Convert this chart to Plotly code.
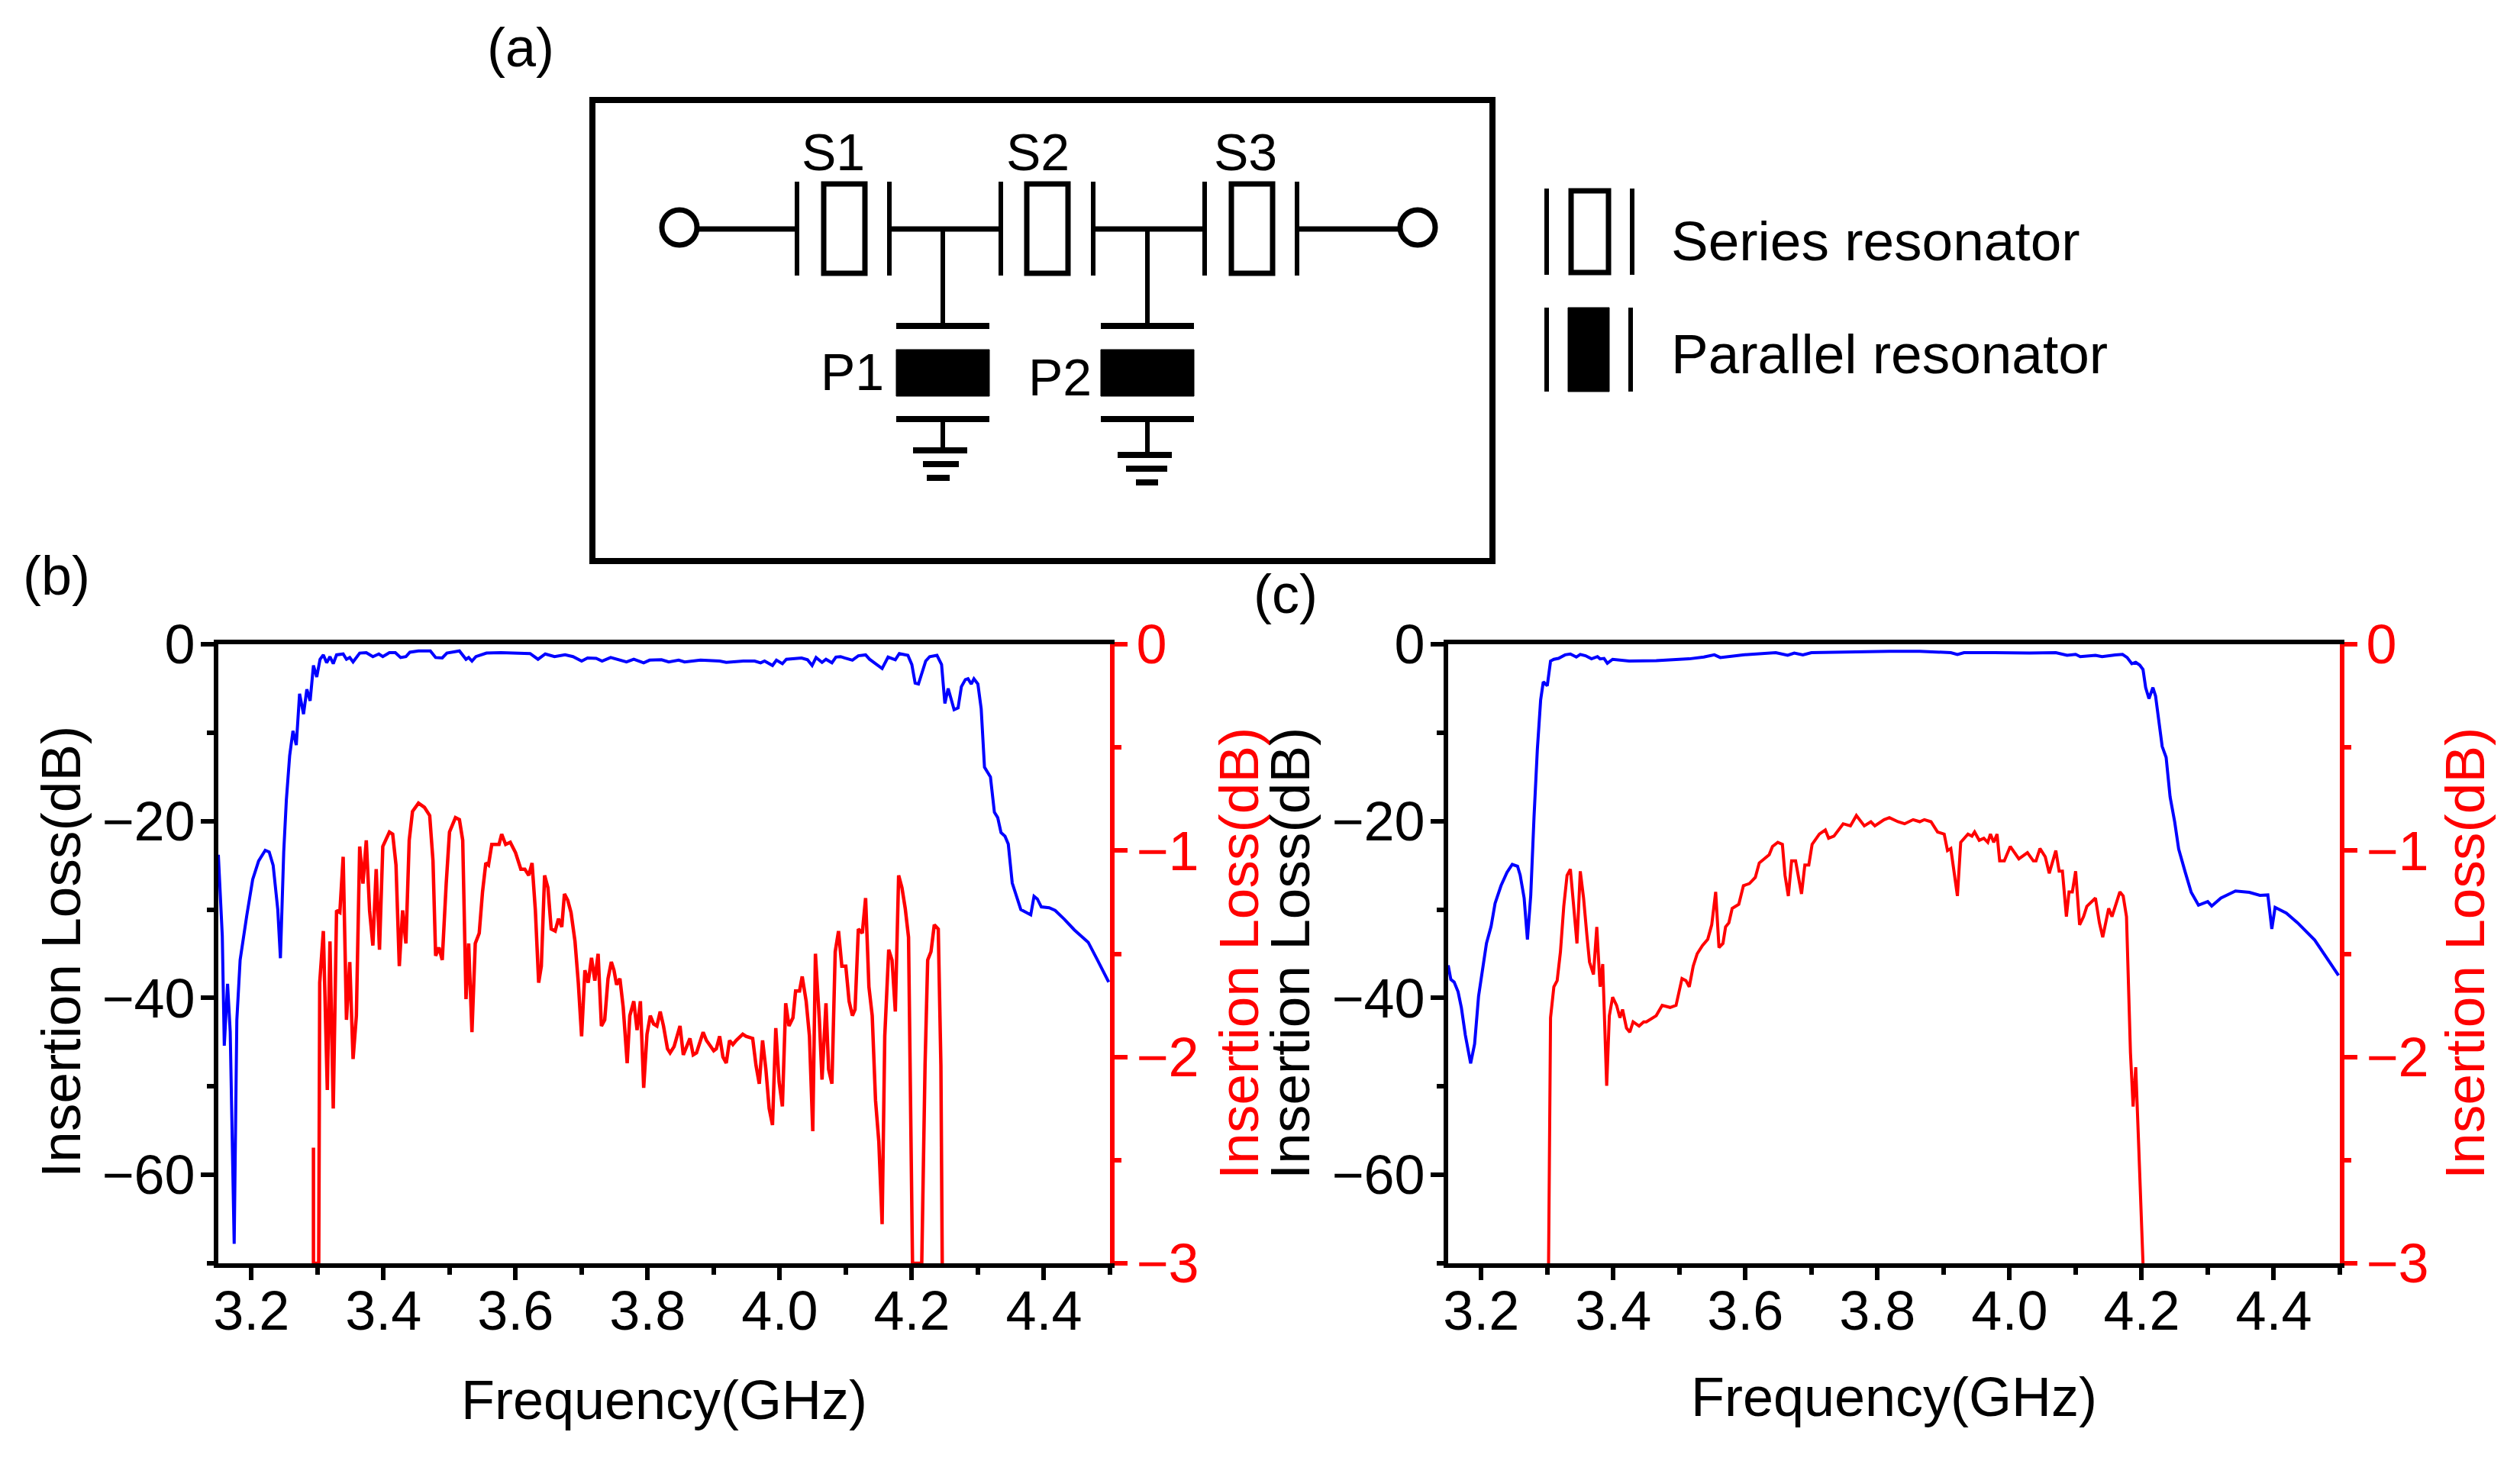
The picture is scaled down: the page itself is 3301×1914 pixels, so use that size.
import plotly.graph_objects as go

# ---------- panel (b) ----------
b_blue_f = [3.15,3.154,3.156,3.159,3.164,3.168,3.174,3.178,3.183,3.193,3.202,3.211,3.221,3.227,3.233,3.24,3.244,3.249,3.253,3.258,3.263,3.268,3.273,3.279,3.284,3.289,3.294,3.299,3.304,3.309,3.314,3.319,3.324,3.329,3.339,3.344,3.349,3.354,3.364,3.374,3.384,3.393,3.399,3.409,3.418,3.426,3.434,3.44,3.453,3.471,3.479,3.489,3.496,3.515,3.525,3.529,3.534,3.54,3.556,3.578,3.622,3.634,3.645,3.659,3.675,3.687,3.7,3.709,3.722,3.731,3.744,3.768,3.779,3.794,3.803,3.821,3.832,3.847,3.856,3.88,3.909,3.919,3.945,3.962,3.971,3.977,3.989,3.995,4.004,4.01,4.033,4.042,4.049,4.055,4.064,4.07,4.079,4.085,4.092,4.098,4.11,4.119,4.13,4.136,4.155,4.164,4.175,4.181,4.194,4.2,4.205,4.21,4.221,4.227,4.238,4.245,4.25,4.255,4.264,4.27,4.275,4.281,4.285,4.29,4.294,4.3,4.305,4.31,4.319,4.325,4.33,4.335,4.341,4.346,4.352,4.365,4.38,4.385,4.39,4.396,4.408,4.417,4.431,4.446,4.467,4.481,4.498]
b_blue_db = [-23.8,-30,-33,-45.4,-38.4,-43.8,-67.8,-42.5,-35.7,-30.7,-26.6,-24.5,-23.3,-23.5,-25,-30,-35.5,-23.5,-17.6,-12.6,-9.8,-11.4,-5.6,-7.9,-5.1,-6.4,-2.4,-3.7,-1.7,-1.2,-2.1,-1.4,-2.2,-1.2,-1.1,-1.7,-1.5,-2,-1,-0.95,-1.4,-1.1,-1.4,-0.95,-0.95,-1.5,-1.4,-0.9,-0.75,-0.75,-1.5,-1.55,-1,-0.75,-1.7,-1.5,-1.9,-1.4,-1,-0.95,-1.05,-1.7,-1.1,-1.4,-1.2,-1.4,-1.9,-1.55,-1.6,-1.9,-1.5,-2,-1.7,-2.1,-1.8,-1.75,-2,-1.8,-2,-1.8,-1.9,-2.05,-1.9,-1.9,-2.1,-1.9,-2.4,-1.8,-2.2,-1.7,-1.55,-1.75,-2.4,-1.5,-2.05,-1.7,-2.1,-1.45,-1.4,-1.55,-1.8,-1.3,-1.2,-1.7,-2.75,-1.45,-1.75,-1.05,-1.25,-2.3,-4.4,-4.5,-1.9,-1.4,-1.25,-2.3,-6.7,-5,-7.4,-7.2,-4.8,-4,-3.9,-4.5,-3.9,-4.5,-7.3,-13.9,-15,-19,-19.6,-21.3,-21.7,-22.6,-27,-30,-30.6,-28.5,-28.8,-29.7,-29.8,-30.1,-31.1,-32.3,-33.7,-35.7,-38.2]

b_red_f = [3.294,3.294,3.302,3.3035,3.309,3.315,3.319,3.324,3.329,3.334,3.339,3.344,3.349,3.354,3.359,3.364,3.369,3.374,3.379,3.384,3.389,3.394,3.399,3.409,3.414,3.419,3.424,3.429,3.434,3.439,3.444,3.453,3.462,3.47,3.475,3.479,3.484,3.489,3.495,3.5,3.509,3.515,3.52,3.525,3.529,3.534,3.539,3.545,3.55,3.555,3.559,3.564,3.575,3.579,3.585,3.592,3.6,3.608,3.614,3.62,3.625,3.63,3.635,3.639,3.644,3.649,3.654,3.66,3.665,3.67,3.674,3.679,3.684,3.69,3.695,3.7,3.705,3.71,3.715,3.72,3.725,3.73,3.735,3.74,3.745,3.749,3.753,3.758,3.763,3.769,3.773,3.779,3.784,3.789,3.794,3.799,3.804,3.809,3.814,3.819,3.824,3.83,3.834,3.84,3.849,3.854,3.864,3.869,3.874,3.884,3.889,3.9,3.904,3.909,3.914,3.919,3.924,3.929,3.934,3.944,3.949,3.959,3.964,3.969,3.974,3.979,3.984,3.989,3.994,3.999,4.004,4.009,4.014,4.02,4.024,4.03,4.034,4.04,4.045,4.05,4.054,4.06,4.064,4.07,4.074,4.079,4.084,4.089,4.094,4.1,4.105,4.11,4.114,4.119,4.125,4.13,4.135,4.14,4.145,4.15,4.155,4.159,4.165,4.17,4.175,4.18,4.185,4.19,4.195,4.198,4.201,4.215,4.22,4.224,4.229,4.234,4.24,4.244,4.246]
b_red_db = [-2.44,-3,-3,-1.64,-1.39,-2.16,-1.44,-2.25,-1.29,-1.3,-1.03,-1.82,-1.54,-2.01,-1.8,-0.98,-1.16,-0.95,-1.29,-1.46,-1.09,-1.48,-0.98,-0.91,-0.92,-1.07,-1.56,-1.29,-1.45,-0.95,-0.81,-0.77,-0.79,-0.83,-1.05,-1.51,-1.47,-1.53,-1.16,-0.91,-0.84,-0.85,-0.95,-1.72,-1.45,-1.88,-1.45,-1.4,-1.2,-1.06,-1.07,-0.97,-0.97,-0.92,-0.97,-0.96,-1.01,-1.09,-1.09,-1.12,-1.06,-1.29,-1.64,-1.56,-1.12,-1.18,-1.38,-1.39,-1.33,-1.37,-1.21,-1.24,-1.3,-1.44,-1.64,-1.9,-1.58,-1.64,-1.52,-1.63,-1.5,-1.85,-1.82,-1.62,-1.54,-1.58,-1.65,-1.62,-1.76,-2.03,-1.8,-1.73,-1.87,-1.73,-2.15,-1.89,-1.8,-1.84,-1.85,-1.78,-1.85,-1.96,-1.98,-1.95,-1.85,-1.99,-1.91,-1.99,-1.98,-1.88,-1.92,-1.97,-1.96,-1.9,-2,-2.03,-1.92,-1.94,-1.92,-1.89,-1.9,-1.91,-2.04,-2.13,-1.92,-2.06,-2.25,-2.33,-1.86,-2.12,-2.24,-1.74,-1.85,-1.81,-1.68,-1.68,-1.61,-1.73,-1.9,-2.36,-1.5,-1.82,-2.11,-1.74,-2.06,-2.13,-1.49,-1.39,-1.56,-1.56,-1.73,-1.8,-1.77,-1.38,-1.4,-1.23,-1.66,-1.8,-2.21,-2.41,-2.81,-1.9,-1.48,-1.53,-1.78,-1.12,-1.18,-1.28,-1.42,-2.3,-3,-3,-2.04,-1.53,-1.49,-1.36,-1.38,-2.04,-3]

# ---------- panel (c) ----------
c_blue_f = [3.15,3.154,3.159,3.165,3.17,3.176,3.184,3.19,3.196,3.203,3.208,3.215,3.221,3.23,3.239,3.247,3.255,3.259,3.265,3.27,3.275,3.28,3.285,3.29,3.294,3.3,3.305,3.31,3.317,3.327,3.335,3.344,3.35,3.358,3.367,3.376,3.38,3.386,3.391,3.399,3.424,3.465,3.496,3.515,3.537,3.553,3.562,3.596,3.646,3.664,3.674,3.687,3.7,3.747,3.771,3.818,3.864,3.911,3.921,3.931,3.977,4.03,4.07,4.087,4.1,4.107,4.13,4.14,4.16,4.171,4.178,4.185,4.191,4.197,4.202,4.206,4.211,4.217,4.221,4.227,4.231,4.237,4.243,4.25,4.256,4.266,4.275,4.286,4.3,4.306,4.32,4.342,4.363,4.379,4.391,4.397,4.402,4.419,4.436,4.462,4.479,4.498]
c_blue_db = [-36.3,-37.9,-38.2,-39.3,-41.1,-44.2,-47.4,-45.2,-39.8,-36,-33.8,-31.9,-29.3,-27.3,-25.8,-24.9,-25.1,-26.1,-28.7,-33.4,-28.4,-19.5,-11.9,-6.3,-4.25,-4.7,-1.9,-1.7,-1.6,-1.2,-1.1,-1.45,-1.15,-1.3,-1.65,-1.4,-1.65,-1.6,-2.15,-1.7,-1.9,-1.85,-1.7,-1.65,-1.45,-1.2,-1.5,-1.2,-0.95,-1.25,-1,-1.2,-0.95,-0.9,-0.8,-0.8,-0.8,-0.95,-1.15,-0.95,-0.95,-1,-0.95,-1.25,-1.15,-1.4,-1.25,-1.4,-1.2,-1.15,-1.5,-2.2,-2.05,-2.35,-2.85,-4.9,-6.15,-4.9,-5.85,-9.3,-11.55,-12.8,-17.25,-20.1,-23.15,-25.8,-28.05,-29.5,-29.1,-29.6,-28.7,-27.9,-28.05,-28.4,-28.35,-32.2,-29.75,-30.4,-31.5,-33.45,-35.35,-37.45]

c_red_f = [3.302,3.3035,3.305,3.31,3.315,3.32,3.325,3.33,3.335,3.34,3.345,3.35,3.355,3.36,3.364,3.37,3.375,3.38,3.384,3.39,3.394,3.399,3.405,3.41,3.414,3.42,3.425,3.43,3.439,3.446,3.45,3.465,3.474,3.486,3.495,3.504,3.51,3.515,3.521,3.527,3.535,3.543,3.549,3.555,3.56,3.566,3.57,3.575,3.58,3.59,3.597,3.606,3.615,3.621,3.631,3.636,3.641,3.649,3.656,3.66,3.665,3.67,3.676,3.685,3.69,3.696,3.701,3.712,3.721,3.726,3.734,3.748,3.759,3.768,3.78,3.79,3.796,3.81,3.818,3.831,3.841,3.854,3.864,3.871,3.881,3.891,3.901,3.906,3.911,3.916,3.921,3.926,3.937,3.943,3.947,3.954,3.961,3.967,3.971,3.976,3.981,3.985,3.992,4.001,4.014,4.027,4.036,4.04,4.046,4.054,4.06,4.07,4.075,4.08,4.086,4.09,4.095,4.1,4.106,4.112,4.117,4.13,4.136,4.141,4.15,4.155,4.167,4.172,4.177,4.18,4.183,4.187,4.191,4.195,4.199,4.202]
c_red_db = [-3,-2.41,-1.81,-1.66,-1.63,-1.49,-1.27,-1.12,-1.09,-1.27,-1.45,-1.1,-1.23,-1.41,-1.54,-1.6,-1.37,-1.66,-1.55,-2.14,-1.8,-1.71,-1.75,-1.81,-1.77,-1.86,-1.88,-1.83,-1.85,-1.83,-1.83,-1.8,-1.75,-1.76,-1.75,-1.62,-1.63,-1.66,-1.56,-1.5,-1.46,-1.43,-1.36,-1.2,-1.47,-1.45,-1.37,-1.35,-1.28,-1.26,-1.17,-1.16,-1.13,-1.06,-1.03,-1.02,-0.98,-0.96,-0.97,-1.12,-1.22,-1.05,-1.05,-1.21,-1.07,-1.07,-0.97,-0.92,-0.9,-0.94,-0.93,-0.87,-0.88,-0.83,-0.88,-0.86,-0.88,-0.85,-0.84,-0.86,-0.87,-0.85,-0.86,-0.85,-0.86,-0.91,-0.92,-1,-0.99,-1.11,-1.22,-0.96,-0.92,-0.93,-0.91,-0.95,-0.94,-0.96,-0.92,-0.96,-0.92,-1.05,-1.05,-0.98,-1.04,-1.01,-1.05,-1.05,-0.99,-1.03,-1.11,-1,-1.1,-1.1,-1.32,-1.2,-1.2,-1.1,-1.36,-1.32,-1.27,-1.23,-1.35,-1.42,-1.28,-1.32,-1.2,-1.22,-1.32,-1.65,-1.98,-2.24,-2.05,-2.39,-2.69,-3]

FREQ_RANGE = [3.15, 4.5]
LEFT_RANGE = [-70, 0]
RIGHT_RANGE = [-3, 0]
X_TITLE = "Frequency(GHz)"
Y_TITLE = "Insertion Loss(dB)"

W, H = 3301, 1914
FONT = "Liberation Sans"
FS = 72
BLUE, RED = "#0000ff", "#ff0000"


def px(x):
    return x / W


def py(y):
    return 1 - y / H


fig = go.Figure()
for fx, fy, rx, ry, xa, yl, yr, rw in [
    (b_blue_f, b_blue_db, b_red_f, b_red_db, "x", "y", "y2", 4.5),
    (c_blue_f, c_blue_db, c_red_f, c_red_db, "x2", "y3", "y4", 4),
]:
    fig.add_trace(go.Scatter(x=fx, y=fy, mode="lines", xaxis=xa, yaxis=yl,
                             line=dict(color=BLUE, width=4), showlegend=False))
    fig.add_trace(go.Scatter(x=rx, y=ry, mode="lines", xaxis=xa, yaxis=yr,
                             line=dict(color=RED, width=rw), showlegend=False))


def xaxis(anchor, dom, standoff):
    return dict(domain=[px(dom[0]), px(dom[1])], anchor=anchor, range=FREQ_RANGE,
                tick0=3.2, dtick=0.2, tickformat=".1f", ticks="outside", ticklen=16,
                tickwidth=6, tickcolor="black", linecolor="black", linewidth=6,
                mirror=True, showgrid=False, zeroline=False,
                minor=dict(dtick=0.1, tick0=3.2, ticks="outside", ticklen=9, tickwidth=6,
                           tickcolor="black", showgrid=False),
                tickfont=dict(family=FONT, size=FS, color="black"), ticklabelstandoff=-21,
                title=dict(text=X_TITLE, standoff=standoff,
                           font=dict(family=FONT, size=FS, color="black")))


def yaxis(anchor, rng, dtick, mdtick, side, color, labeloff, overlay=None):
    d = dict(domain=[py(1655), py(844)], anchor=anchor, range=rng, side=side,
             tick0=0, dtick=dtick, ticks="outside", ticklen=17, tickwidth=6,
             tickcolor=color, linecolor=color, linewidth=6, showgrid=False,
             zeroline=False, showline=True, ticklabelstandoff=labeloff,
             minor=dict(dtick=mdtick, tick0=0, ticks="outside", ticklen=9, tickwidth=6,
                        tickcolor=color, showgrid=False),
             tickfont=dict(family=FONT, size=FS, color=color))
    if overlay:
        d["overlaying"] = overlay
    return d


shapes = []
LC = "black"


def seg(x0, y0, x1, y1, w=7):
    shapes.append(dict(type="line", xref="paper", yref="paper", x0=px(x0), y0=py(y0),
                       x1=px(x1), y1=py(y1), line=dict(color=LC, width=w)))


def rect(x0, y0, x1, y1, fill=None, w=7):
    shapes.append(dict(type="rect", xref="paper", yref="paper", x0=px(x0), y0=py(y0),
                       x1=px(x1), y1=py(y1), line=dict(color=LC, width=w),
                       fillcolor=fill if fill else "rgba(0,0,0,0)"))


def circle(cx, cy, r, w=7):
    shapes.append(dict(type="circle", xref="paper", yref="paper", x0=px(cx - r), y0=py(cy + r),
                       x1=px(cx + r), y1=py(cy - r), line=dict(color=LC, width=w),
                       fillcolor="white"))


# schematic frame
rect(776, 131, 1955, 735, w=8)
# feed line
seg(914, 300, 1044, 300)
seg(1165, 300, 1311, 300)
seg(1432, 300, 1578, 300)
seg(1699, 300, 1834, 300)
circle(890, 298, 23)
circle(1857, 298, 23)
# series resonators
for p0, r0, r1, p1 in [(1044, 1079, 1133, 1165), (1311, 1345, 1399, 1432), (1578, 1613, 1667, 1699)]:
    seg(p0, 238, p0, 361, 6)
    seg(p1, 238, p1, 361, 6)
    rect(r0, 241, r1, 358, w=7)
# shunt resonators
for cx, x0, x1, gy, g in [
    (1235, 1174, 1296, 590, [(1196, 1267), (1209, 1256), (1214, 1244)]),
    (1503, 1442, 1564, 596, [(1464, 1535), (1475, 1529), (1488, 1517)]),
]:
    seg(cx, 300, cx, 427, 6)
    seg(x0, 427, x1, 427, 8)
    rect(x0, 458, x1, 519, fill="black", w=1)
    seg(x0, 549, x1, 549, 8)
    seg(cx, 549, cx, gy, 6)
    for i, (a, b) in enumerate(g):
        seg(a, gy + i * 18, b, gy + i * 18, 8)
# key
seg(2026, 247, 2026, 360, 6)
seg(2138, 247, 2138, 360, 6)
rect(2058, 250, 2107, 357)
seg(2026, 403, 2026, 513, 6)
seg(2136, 403, 2136, 513, 6)
rect(2054, 403, 2108, 513, fill="black", w=1)

annotations = []


def label(text, x, y, anchor="center", size=FS, color="black", angle=0):
    annotations.append(dict(text=text, xref="paper", yref="paper", x=px(x), y=py(y),
                            xanchor=anchor, yanchor="middle", showarrow=False, textangle=angle,
                            font=dict(family=FONT, size=size, color=color)))


label("(a)", 682, 62)
label("(b)", 74, 754)
label("(c)", 1684, 778)
label("S1", 1091, 199, size=68)
label("S2", 1359, 199, size=68)
label("S3", 1631, 199, size=68)
label("P1", 1116, 487, size=68)
label("P2", 1388, 494, size=68)
label("Series resonator", 2187, 315, "left", size=73)
label("Parallel resonator", 2187, 463, "left", size=73)
# axis titles of the two panels
label(Y_TITLE, 79, 1247, angle=-90, size=73)
label(Y_TITLE, 1622, 1249, color=RED, angle=-90, size=73)
label(Y_TITLE, 1689, 1249, angle=-90, size=73)
label(Y_TITLE, 3228, 1249, color=RED, angle=-90, size=73)

fig.update_layout(
    width=W, height=H, margin=dict(l=0, r=0, t=0, b=0, autoexpand=False),
    paper_bgcolor="white", plot_bgcolor="white", showlegend=False,
    font=dict(family=FONT, size=FS, color="black"),
    shapes=shapes, annotations=annotations,
    xaxis=xaxis("y", (286, 1454), 54),
    xaxis2=xaxis("y3", (1897, 3065), 50),
    yaxis=yaxis("x", LEFT_RANGE, 20, 10, "left", "black", -7),
    yaxis2=yaxis("x", RIGHT_RANGE, 1, 0.5, "right", RED, -3, "y"),
    yaxis3=yaxis("x2", LEFT_RANGE, 20, 10, "left", "black", -7),
    yaxis4=yaxis("x2", RIGHT_RANGE, 1, 0.5, "right", RED, -3, "y3"),
)
fig.write_html("out.html", config={"displayModeBar": False},
               post_script="document.body.style.margin='0';")
